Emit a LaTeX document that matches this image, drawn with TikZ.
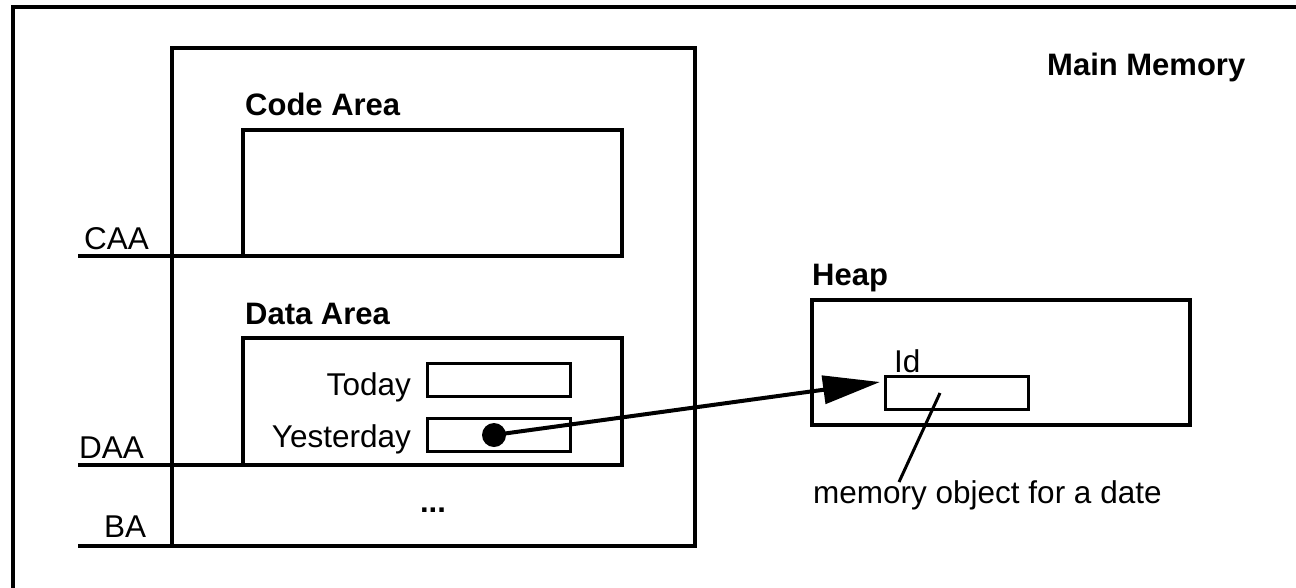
\documentclass[tikz,border=0pt]{standalone}
\usepackage{fontspec}
\setmainfont{Liberation Sans}
\usetikzlibrary{arrows.meta,fit}
\begin{document}
\begin{tikzpicture}[x=1pt,y=-1pt,
  box/.style={draw, line width=3.5pt, inner sep=0pt, outer sep=0pt},
  slot/.style={draw, line width=3pt, inner sep=0pt, outer sep=0pt},
  lbl/.style={inner sep=0pt, font=\fontsize{31.5}{36}\selectfont},
  title/.style={inner sep=0pt, font=\fontsize{31}{36}\selectfont\bfseries},
  wire/.style={line width=3.5pt},
  thin wire/.style={line width=3pt},
  ref/.style={line width=4pt, -{Triangle[length=57pt,width=28pt]}}]
\useasboundingbox (0,0) rectangle (1296,587);

% outer frame (runs past the page edges)
\coordinate (fbot) at (13,620);
\coordinate (fcorner) at (13,7);
\coordinate (fright) at (1320,7);
\draw[wire] (fbot) -- (fcorner) -- (fright);

\node[title, anchor=base west] (mmlbl) at (1047,75) {Main Memory};

% program memory block
\node[box, fit={(172,48) (695,546)}] (prog) {};
\node[title, anchor=base west] (codelbl) at (245,115) {Code Area};
\node[box, fit={(243,130) (622,256)}] (code) {};
\node[title, anchor=base west] (datalbl) at (245,324) {Data Area};
\node[box, fit={(243,338) (622,465)}] (data) {};

% address markers
\coordinate (caa0) at (78,256);
\coordinate (daa0) at (78,465);
\coordinate (ba0) at (78,546);
\draw[wire] (caa0) -- (code.south west);
\draw[wire] (daa0) -- (data.south west);
\draw[wire] (ba0) -- (prog.south west);
\node[lbl, anchor=base west] (caa) at (84,249) {CAA};
\node[lbl, anchor=base west] (daa) at (79,458) {DAA};
\node[lbl, anchor=base west] (ba) at (104,537) {BA};
\node[title, anchor=base] (dots) at (433,512) {...};

% variables
\node[lbl, anchor=base east] (today) at (411,395) {Today};
\node[slot, fit={(427,363) (570,396)}] (todaybox) {};
\node[lbl, anchor=base east] (yday) at (411,447) {Yesterday};
\node[slot, fit={(427,418) (570,451)}] (ydaybox) {};
\node[circle, fill=black, inner sep=0pt, minimum size=24pt] (dot) at (494,435) {};

% heap
\node[title, anchor=base west] (heaplbl) at (812,285) {Heap};
\node[box, fit={(812,300) (1190,425)}] (heap) {};
\node[slot, fit={(885,376) (1028,409)}] (idbox) {};
\node[lbl, anchor=base west] (idlbl) at (894,372) {Id};
\coordinate (tip) at (880,382);
\draw[ref] (dot.center) -- (tip);

% annotation
\node[lbl, anchor=base west] (note) at (813,503) {memory object for a date};
\coordinate (ptr) at (940,393);
\coordinate (ptrend) at (899,482);
\draw[thin wire] (ptr) -- (ptrend);
\end{tikzpicture}
\end{document}
